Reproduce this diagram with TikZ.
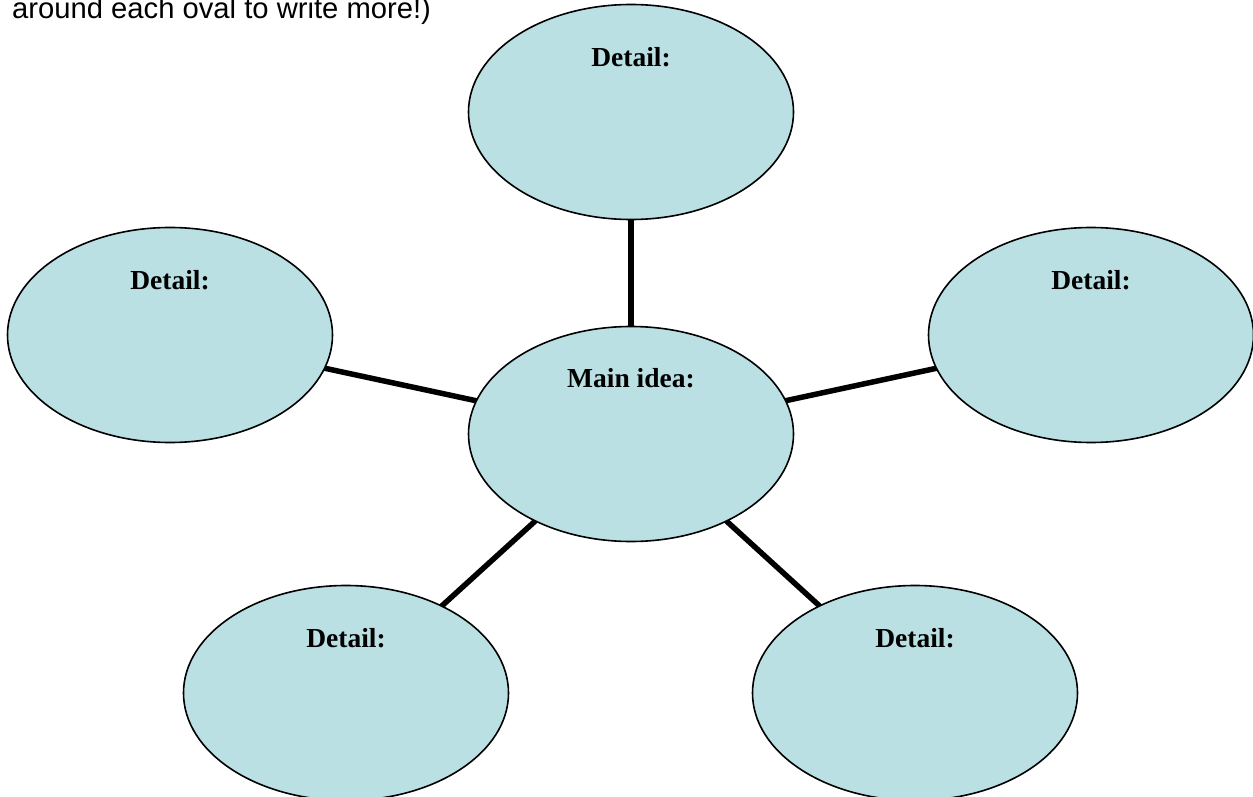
\documentclass[tikz,border=0pt]{standalone}
\usepackage{fontspec}
\setmainfont{Liberation Sans}
\newfontfamily\oldfont{Liberation Serif}
\usetikzlibrary{shapes.geometric,backgrounds}
\definecolor{ovalfill}{RGB}{186,224,227}
\begin{document}
\begin{tikzpicture}[x=1pt,y=-1pt,
  oval/.style={ellipse, draw=black, line width=1.6pt, fill=ovalfill, minimum width=325pt, minimum height=215pt, inner sep=0pt},
  spoke/.style={line width=5.5pt, draw=black},
  oldtext/.style={font=\fontsize{27.5}{30}\selectfont\oldfont\bfseries, inner sep=0pt, anchor=center},
  notetext/.style={font=\fontsize{29.2}{32}\selectfont, inner sep=0pt, anchor=base west}
]
\useasboundingbox (0,0) rectangle (1253,797);
\node[notetext] (note) at (12,18.5) {around each oval to write more!)};
\node[oval] (top) at (631,112) {};
\node[oval] (left) at (170,335) {};
\node[oval] (right) at (1091,335) {};
\node[oval] (main) at (631,434) {};
\node[oval] (bl) at (346,693) {};
\node[oval] (br) at (915,693) {};
\begin{scope}[on background layer]
  \draw[spoke] (main.center) -- (top.center);
  \draw[spoke] (main.center) -- (left.center);
  \draw[spoke] (main.center) -- (right.center);
  \draw[spoke] (main.center) -- (bl.center);
  \draw[spoke] (main.center) -- (br.center);
\end{scope}
\node[oldtext] (ttop) at ([yshift=55pt]top.center) {Detail:};
\node[oldtext] (tleft) at ([yshift=55pt]left.center) {Detail:};
\node[oldtext] (tright) at ([yshift=55pt]right.center) {Detail:};
\node[oldtext] (tmain) at ([yshift=56pt]main.center) {Main idea:};
\node[oldtext] (tbl) at ([yshift=55pt]bl.center) {Detail:};
\node[oldtext] (tbr) at ([yshift=55pt]br.center) {Detail:};
\end{tikzpicture}
\end{document}
